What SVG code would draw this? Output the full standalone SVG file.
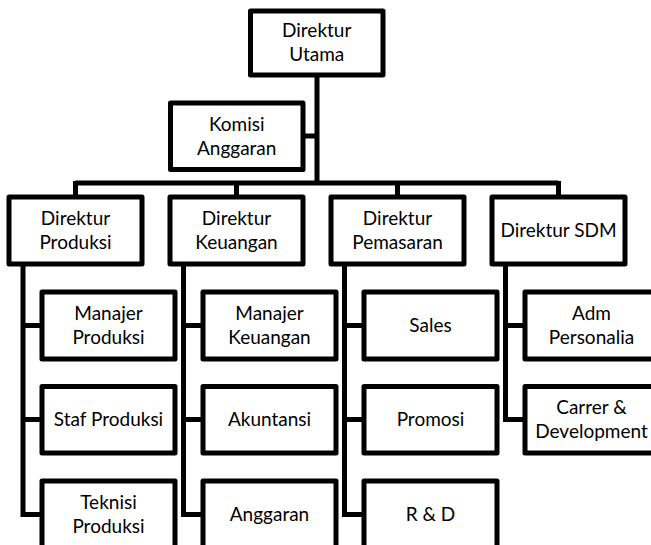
<svg xmlns="http://www.w3.org/2000/svg" width="651" height="545" viewBox="0 0 651 545">
<style>
.box{fill:#fff;stroke:#000;stroke-width:5;stroke-linejoin:round}
.ln{fill:none;stroke:#000;stroke-width:5;stroke-linejoin:miter;stroke-linecap:butt}
text{font-family:"Lato","Liberation Sans",sans-serif;font-size:19px;fill:#000;text-anchor:middle}
</style>
<rect width="651" height="545" fill="#fff"/>
<g id="connectors">
<path class="ln" d="M317,75 V183 M303,136 H317 M75.5,183 H558.5 M75.5,181 V197 M236.5,183 V197 M397.5,183 V197 M558.5,181 V197"/>
<path class="ln" d="M23,264 V514.5 H42 M23,325.5 H42 M23,419.5 H42"/>
<path class="ln" d="M183.5,264 V514.5 H203 M183.5,325.5 H203 M183.5,419.5 H203"/>
<path class="ln" d="M344.5,264 V514.5 H364 M344.5,325.5 H364 M344.5,419.5 H364"/>
<path class="ln" d="M505.5,264 V419.5 H525 M505.5,325.5 H525"/>
</g>
<g id="direktur-utama"><rect class="box" x="250.5" y="11" width="132.5" height="64"/><text x="316.7" y="37">Direktur</text><text x="316.7" y="61">Utama</text></g>
<g id="komisi-anggaran"><rect class="box" x="170.5" y="103" width="132.5" height="66.5"/><text x="236.7" y="130.5">Komisi</text><text x="236.7" y="154.5">Anggaran</text></g>
<g id="direktur-produksi"><rect class="box" x="9" y="197" width="133" height="67"/><text x="75.5" y="225">Direktur</text><text x="75.5" y="248.5">Produksi</text></g>
<g id="direktur-keuangan"><rect class="box" x="170" y="197" width="133" height="67"/><text x="236.5" y="225">Direktur</text><text x="236.5" y="248.5">Keuangan</text></g>
<g id="direktur-pemasaran"><rect class="box" x="331" y="197" width="133" height="67"/><text x="397.5" y="225">Direktur</text><text x="397.5" y="248.5">Pemasaran</text></g>
<g id="direktur-sdm"><rect class="box" x="492" y="197" width="133" height="67"/><text x="558.5" y="236.7">Direktur SDM</text></g>
<g id="manajer-produksi"><rect class="box" x="42" y="292" width="133" height="67"/><text x="108.5" y="320">Manajer</text><text x="108.5" y="343.5">Produksi</text></g>
<g id="staf-produksi"><rect class="box" x="42" y="386.5" width="133" height="66.5"/><text x="108.5" y="425.5">Staf Produksi</text></g>
<g id="teknisi-produksi"><rect class="box" x="42" y="481" width="133" height="67"/><text x="108.5" y="508.5">Teknisi</text><text x="108.5" y="532.5">Produksi</text></g>
<g id="manajer-keuangan"><rect class="box" x="203" y="292" width="133" height="67"/><text x="269.5" y="320">Manajer</text><text x="269.5" y="343.5">Keuangan</text></g>
<g id="akuntansi"><rect class="box" x="203" y="386.5" width="133" height="66.5"/><text x="269.5" y="425.5">Akuntansi</text></g>
<g id="anggaran"><rect class="box" x="203" y="481" width="133" height="67"/><text x="269.5" y="520.5">Anggaran</text></g>
<g id="sales"><rect class="box" x="364" y="292" width="133" height="67"/><text x="430.5" y="331.5">Sales</text></g>
<g id="promosi"><rect class="box" x="364" y="386.5" width="133" height="66.5"/><text x="430.5" y="425.5">Promosi</text></g>
<g id="r-and-d"><rect class="box" x="364" y="481" width="133" height="67"/><text x="430.5" y="520.5">R &amp; D</text></g>
<g id="adm-personalia"><rect class="box" x="525" y="292" width="133" height="67"/><text x="591.5" y="320">Adm</text><text x="591.5" y="343.5">Personalia</text></g>
<g id="carrer-development"><rect class="box" x="525" y="386.5" width="133" height="66.5"/><text x="591.5" y="414">Carrer &amp;</text><text x="591.5" y="438">Development</text></g>
</svg>
